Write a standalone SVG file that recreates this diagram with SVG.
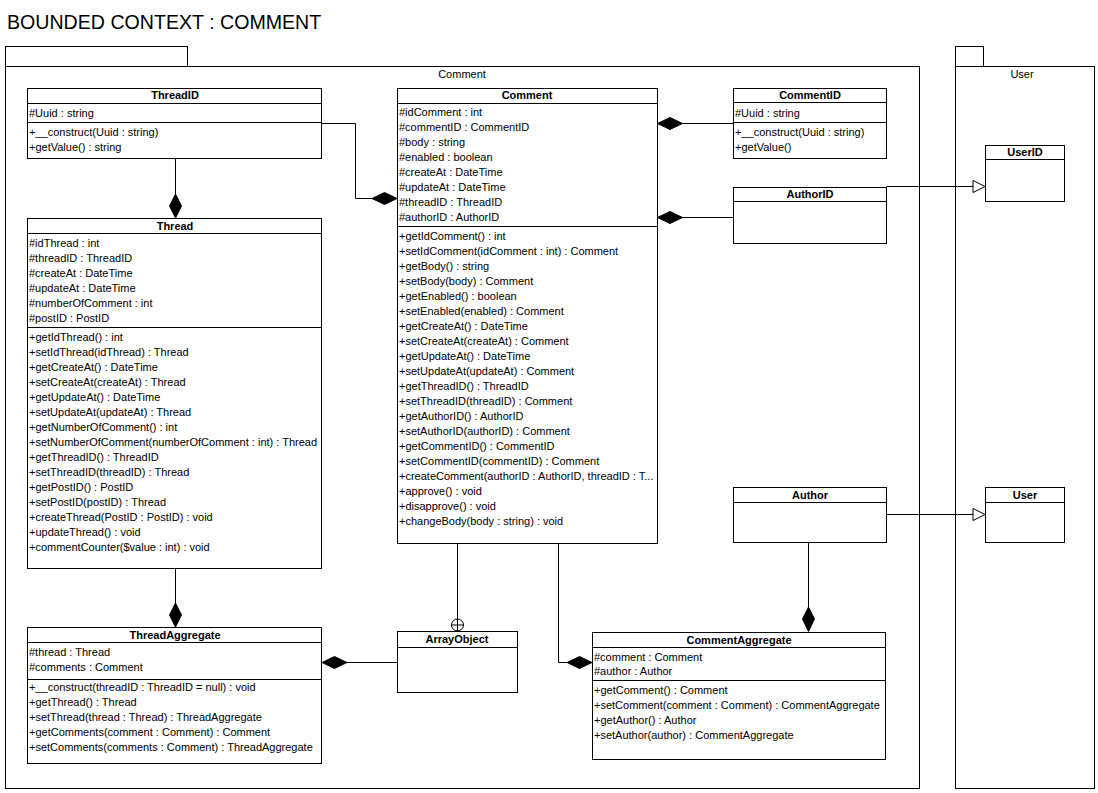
<svg xmlns="http://www.w3.org/2000/svg" width="1098" height="793" viewBox="0 0 1098 793">
<style>
text{font-family:"Liberation Sans",Arial,sans-serif;font-size:11px;fill:#000}
.t{font-size:19.6px}
.h{font-weight:bold;text-anchor:middle}
.c{text-anchor:middle}
.b{fill:#fff;stroke:#000;stroke-width:1}
.l{fill:none;stroke:#000;stroke-width:1}
.d{fill:#000;stroke:#000;stroke-width:1}
.g{fill:#fff;stroke:#000;stroke-width:1}
</style>
<rect width="1098" height="793" fill="#fff"/>
<text class="t" x="7" y="29">BOUNDED CONTEXT : COMMENT</text>

<g id="pkg-comment">
<rect class="b" x="5.5" y="46.5" width="182" height="20"/>
<rect class="b" x="5.5" y="66.5" width="914" height="722"/>
<text class="c" x="462" y="78">Comment</text>
</g>
<g id="pkg-user">
<rect class="b" x="955.5" y="46.5" width="28" height="20"/>
<rect class="b" x="955.5" y="66.5" width="139" height="722"/>
<text class="c" x="1022" y="78">User</text>
</g>

<g id="ThreadID">
<rect class="b" x="27.5" y="88.5" width="294" height="70"/>
<path class="l" d="M27.5 103.5H321.5M27.5 122.5H321.5"/>
<text class="h" x="175" y="99">ThreadID</text>
<text x="29" y="117">#Uuid : string</text>
<text x="29" y="136">+__construct(Uuid : string)</text>
<text x="29" y="151">+getValue() : string</text>
</g>

<g id="Thread">
<rect class="b" x="27.5" y="218.5" width="294" height="350"/>
<path class="l" d="M27.5 233.5H321.5M27.5 327.5H321.5"/>
<text class="h" x="175" y="230">Thread</text>
<text x="29" y="247">#idThread : int</text>
<text x="29" y="262">#threadID : ThreadID</text>
<text x="29" y="277">#createAt : DateTime</text>
<text x="29" y="292">#updateAt : DateTime</text>
<text x="29" y="307">#numberOfComment : int</text>
<text x="29" y="322">#postID : PostID</text>
<text x="29" y="341">+getIdThread() : int</text>
<text x="29" y="356">+setIdThread(idThread) : Thread</text>
<text x="29" y="371">+getCreateAt() : DateTime</text>
<text x="29" y="386">+setCreateAt(createAt) : Thread</text>
<text x="29" y="401">+getUpdateAt() : DateTime</text>
<text x="29" y="416">+setUpdateAt(updateAt) : Thread</text>
<text x="29" y="431">+getNumberOfComment() : int</text>
<text x="29" y="446">+setNumberOfComment(numberOfComment : int) : Thread</text>
<text x="29" y="461">+getThreadID() : ThreadID</text>
<text x="29" y="476">+setThreadID(threadID) : Thread</text>
<text x="29" y="491">+getPostID() : PostID</text>
<text x="29" y="506">+setPostID(postID) : Thread</text>
<text x="29" y="521">+createThread(PostID : PostID) : void</text>
<text x="29" y="536">+updateThread() : void</text>
<text x="29" y="551">+commentCounter($value : int) : void</text>
</g>

<g id="Comment">
<rect class="b" x="397.5" y="88.5" width="260" height="455"/>
<path class="l" d="M397.5 103.5H657.5M397.5 226.5H657.5"/>
<text class="h" x="527" y="99">Comment</text>
<text x="399" y="116">#idComment : int</text>
<text x="399" y="131">#commentID : CommentID</text>
<text x="399" y="146">#body : string</text>
<text x="399" y="161">#enabled : boolean</text>
<text x="399" y="176">#createAt : DateTime</text>
<text x="399" y="191">#updateAt : DateTime</text>
<text x="399" y="206">#threadID : ThreadID</text>
<text x="399" y="221">#authorID : AuthorID</text>
<text x="399" y="240">+getIdComment() : int</text>
<text x="399" y="255">+setIdComment(idComment : int) : Comment</text>
<text x="399" y="270">+getBody() : string</text>
<text x="399" y="285">+setBody(body) : Comment</text>
<text x="399" y="300">+getEnabled() : boolean</text>
<text x="399" y="315">+setEnabled(enabled) : Comment</text>
<text x="399" y="330">+getCreateAt() : DateTime</text>
<text x="399" y="345">+setCreateAt(createAt) : Comment</text>
<text x="399" y="360">+getUpdateAt() : DateTime</text>
<text x="399" y="375">+setUpdateAt(updateAt) : Comment</text>
<text x="399" y="390">+getThreadID() : ThreadID</text>
<text x="399" y="405">+setThreadID(threadID) : Comment</text>
<text x="399" y="420">+getAuthorID() : AuthorID</text>
<text x="399" y="435">+setAuthorID(authorID) : Comment</text>
<text x="399" y="450">+getCommentID() : CommentID</text>
<text x="399" y="465">+setCommentID(commentID) : Comment</text>
<text x="399" y="480">+createComment(authorID : AuthorID, threadID : T...</text>
<text x="399" y="495">+approve() : void</text>
<text x="399" y="510">+disapprove() : void</text>
<text x="399" y="525">+changeBody(body : string) : void</text>
</g>

<g id="CommentID">
<rect class="b" x="733.5" y="88.5" width="153" height="70"/>
<path class="l" d="M733.5 102.5H886.5M733.5 122.5H886.5"/>
<text class="h" x="810" y="99">CommentID</text>
<text x="735" y="117">#Uuid : string</text>
<text x="735" y="136">+__construct(Uuid : string)</text>
<text x="735" y="151">+getValue()</text>
</g>

<g id="AuthorID">
<rect class="b" x="733.5" y="187.5" width="153" height="56"/>
<path class="l" d="M733.5 201.5H886.5"/>
<text class="h" x="810" y="198">AuthorID</text>
</g>

<g id="UserID">
<rect class="b" x="985.5" y="145.5" width="79" height="56"/>
<path class="l" d="M985.5 159.5H1064.5"/>
<text class="h" x="1025" y="156">UserID</text>
</g>

<g id="Author">
<rect class="b" x="733.5" y="487.5" width="153" height="55"/>
<path class="l" d="M733.5 502.5H886.5"/>
<text class="h" x="810" y="499">Author</text>
</g>

<g id="User">
<rect class="b" x="985.5" y="487.5" width="79" height="55"/>
<path class="l" d="M985.5 502.5H1064.5"/>
<text class="h" x="1025" y="499">User</text>
</g>

<g id="ThreadAggregate">
<rect class="b" x="27.5" y="627.5" width="294" height="136"/>
<path class="l" d="M27.5 642.5H321.5M27.5 679.5H321.5"/>
<text class="h" x="175" y="639">ThreadAggregate</text>
<text x="29" y="656">#thread : Thread</text>
<text x="29" y="671">#comments : Comment</text>
<text x="29" y="691">+__construct(threadID : ThreadID = null) : void</text>
<text x="29" y="706">+getThread() : Thread</text>
<text x="29" y="721">+setThread(thread : Thread) : ThreadAggregate</text>
<text x="29" y="736">+getComments(comment : Comment) : Comment</text>
<text x="29" y="751">+setComments(comments : Comment) : ThreadAggregate</text>
</g>

<g id="ArrayObject">
<rect class="b" x="397.5" y="631.5" width="120" height="61"/>
<path class="l" d="M397.5 647.5H517.5"/>
<text class="h" x="457" y="643">ArrayObject</text>
</g>

<g id="CommentAggregate">
<rect class="b" x="592.5" y="632.5" width="293" height="127"/>
<path class="l" d="M592.5 647.5H885.5M592.5 680.5H885.5"/>
<text class="h" x="739" y="644">CommentAggregate</text>
<text x="594" y="661">#comment : Comment</text>
<text x="594" y="675">#author : Author</text>
<text x="594" y="694">+getComment() : Comment</text>
<text x="594" y="709">+setComment(comment : Comment) : CommentAggregate</text>
<text x="594" y="724">+getAuthor() : Author</text>
<text x="594" y="739">+setAuthor(author) : CommentAggregate</text>
</g>

<g id="connectors">
<path class="l" d="M175.5 158.5V194"/>
<polygon class="d" points="175.5,194 181.5,206 175.5,218 169.5,206"/>
<path class="l" d="M321.5 123.5H355.5V198.5H372"/>
<polygon class="d" points="372,198.5 384.5,192.5 397,198.5 384.5,204.5"/>
<path class="l" d="M733 123.5H682"/>
<polygon class="d" points="657.5,123.5 670,117.5 682.5,123.5 670,129.5"/>
<path class="l" d="M733 217.5H682"/>
<polygon class="d" points="657.5,217.5 670,211.5 682.5,217.5 670,223.5"/>
<path class="l" d="M886.5 186.5H973"/>
<polygon class="g" points="973,180.5 985,186.5 973,192.5"/>
<path class="l" d="M886.5 514.5H973"/>
<polygon class="g" points="973,508.5 985,514.5 973,520.5"/>
<path class="l" d="M175.5 568.5V603"/>
<polygon class="d" points="175.5,603 181.5,615 175.5,627 169.5,615"/>
<path class="l" d="M397 662.5H347"/>
<polygon class="d" points="322,662.5 334.5,656.5 347,662.5 334.5,668.5"/>
<path class="l" d="M457.5 543.5V619"/>
<circle class="g" cx="457.5" cy="625" r="6"/>
<path class="l" d="M451.5 625H463.5M457.5 619V631"/>
<path class="l" d="M558.5 543.5V662.5H567"/>
<polygon class="d" points="567,662.5 579.5,656.5 592,662.5 579.5,668.5"/>
<path class="l" d="M808.5 542.5V607"/>
<polygon class="d" points="808.5,607 814.5,619 808.5,631.5 802.5,619"/>
</g>
</svg>
